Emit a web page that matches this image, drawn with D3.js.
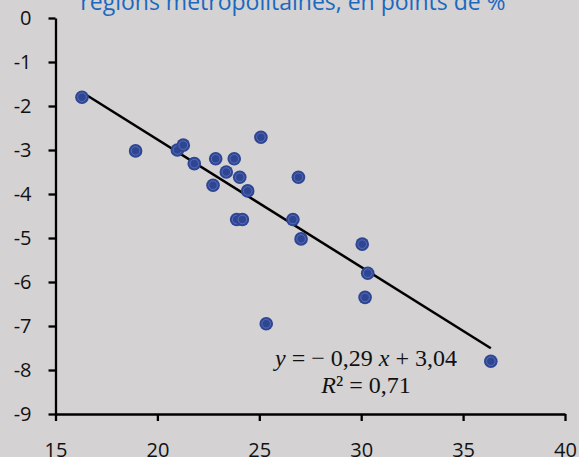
<!DOCTYPE html>
<html><head><meta charset="utf-8">
<script src="https://cdn.jsdelivr.net/npm/d3@7"></script>
<style>html,body{margin:0;padding:0;background:#d4d2d3;}svg{display:block;}</style>
</head><body>
<svg id="c" width="579" height="457"></svg>
<script>
const titleText = "régions métropolitaines, en points de %";
const xValues = [16.30,18.93,20.98,21.27,21.81,22.86,23.77,23.38,22.73,24.04,24.43,25.08,23.89,24.17,26.92,26.65,27.05,30.05,30.32,30.19,25.34,36.36];
const yValues = [-1.80,-3.02,-3.00,-2.89,-3.31,-3.20,-3.20,-3.50,-3.80,-3.62,-3.93,-2.71,-4.58,-4.58,-3.62,-4.58,-5.02,-5.14,-5.80,-6.35,-6.95,-7.80];
const xTicks = [15,20,25,30,35,40];
const yTicks = [0,-1,-2,-3,-4,-5,-6,-7,-8,-9];
const trendSlope = -0.29, trendIntercept = 3.04, trendR2 = "0,71";

const svg = d3.select("#c");
svg.append("rect").attr("width",579).attr("height",457).attr("fill","#d4d2d3");
const x = d3.scaleLinear().domain([15,40]).range([55.5,565]);
const y = d3.scaleLinear().domain([-9,0]).range([414,18]);
const fmt = d => String(d);

svg.append("text").attr("x",293).attr("y",9.5).attr("text-anchor","middle")
  .attr("font-family","Open Sans").attr("font-size",23).attr("fill","#1a68bf").text(titleText);

const gx = svg.append("g").attr("transform","translate(0,414)")
  .call(d3.axisBottom(x).tickValues(xTicks).tickFormat(fmt).tickSize(7).tickSizeOuter(0).tickPadding(22));
const gy = svg.append("g").attr("transform","translate(55.5,0)")
  .call(d3.axisLeft(y).tickValues(yTicks).tickFormat(fmt).tickSize(7).tickSizeOuter(0).tickPadding(17));
[gx,gy].forEach(g=>{
  g.selectAll("path,line").attr("stroke","#000").attr("stroke-width",2.3);
  g.selectAll("text").attr("font-family","Open Sans").attr("font-size",20).attr("fill","#111");
});

const x0 = d3.min(xValues), x1 = d3.max(xValues);
svg.append("line")
  .attr("x1",x(x0)).attr("y1",y(trendSlope*x0+trendIntercept))
  .attr("x2",x(x1)).attr("y2",y(trendSlope*x1+trendIntercept))
  .attr("stroke","#000").attr("stroke-width",2.5);

const pts = svg.append("g").selectAll("g").data(xValues.map((v,i)=>[v,yValues[i]])).join("g")
  .attr("transform",d=>`translate(${x(d[0])},${y(d[1])})`);
pts.append("circle").attr("r",6.8).attr("fill","#2e4594");
pts.append("circle").attr("r",4.3).attr("fill","none").attr("stroke","#5d72b5").attr("stroke-width",0.9);

const eq = svg.append("text").attr("x",366).attr("y",366).attr("text-anchor","middle")
  .attr("font-family","Liberation Serif").attr("font-size",24).attr("fill","#111");
eq.append("tspan").attr("font-style","italic").text("y");
eq.append("tspan").text(" = − " + String(Math.abs(trendSlope)).replace(".",",") + " ");
eq.append("tspan").attr("font-style","italic").text("x");
eq.append("tspan").text(" + " + trendIntercept.toFixed(2).replace(".",","));
const r2 = svg.append("text").attr("x",366).attr("y",393).attr("text-anchor","middle")
  .attr("font-family","Liberation Serif").attr("font-size",24).attr("fill","#111");
r2.append("tspan").attr("font-style","italic").text("R");
r2.append("tspan").text("² = " + trendR2);
</script>
</body></html>
